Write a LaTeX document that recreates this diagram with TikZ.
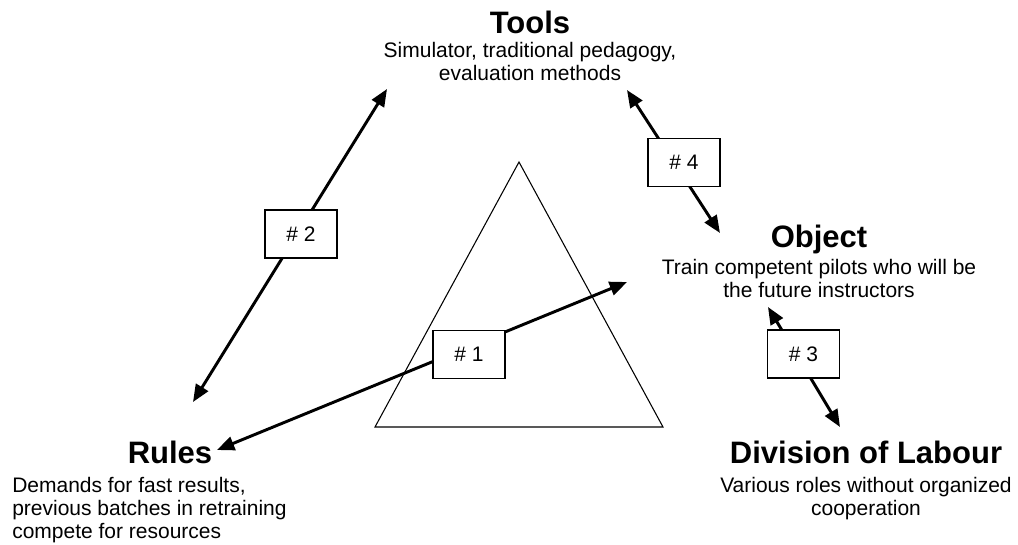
\documentclass[tikz,border=0pt]{standalone}
\usepackage{fontspec}
\setmainfont{Liberation Sans}
\usetikzlibrary{arrows.meta}
\begin{document}
\begin{tikzpicture}[x=0.75pt,y=-0.75pt,
  head/.style={font=\bfseries\fontsize{23.25}{27}\selectfont, inner sep=0, anchor=base},
  sub/.style={font=\fontsize{15.75}{17.25}\selectfont, inner sep=0, align=center, anchor=base},
  tag/.style={draw, line width=1.1pt, fill=white, minimum width=54pt, minimum height=36pt,
              font=\fontsize{15.75}{17}\selectfont, inner sep=0},
  link/.style={line width=2.2pt, {Triangle[length=13pt,width=10.5pt]}-{Triangle[length=13pt,width=10.5pt]}},
  tri/.style={line width=0.8pt, line join=miter}]
\useasboundingbox (0,0) rectangle (1018,544);

% central triangle
\draw[tri] (375,427) -- (663,427) -- (519,162) -- cycle;

% corner labels (sub-text nodes are placed by the baseline of their last line)
\node[head] (tools) at (530,33) {Tools};
\node[sub]  (toolsTxt) at (530,80) {Simulator, traditional pedagogy,\\evaluation methods};

\node[head] (object) at (819,247) {Object};
\node[sub]  (objectTxt) at (819,297) {Train competent pilots who will be\\the future instructors};

\node[head] (division) at (866,463) {Division of Labour};
\node[sub]  (divisionTxt) at (866,515) {Various roles without organized\\cooperation};

\node[head] (rules) at (170,463) {Rules};
\node[sub, anchor=base west, align=left] (rulesTxt) at (12,538)
  {Demands for fast results,\\previous batches in retraining\\compete for resources};

% arrow end points
\coordinate (r1) at (217,450);
\coordinate (o1) at (627,282);
\coordinate (r2) at (193,402);
\coordinate (t2) at (387,89);
\coordinate (o3) at (768,307);
\coordinate (d3) at (840,427);
\coordinate (t4) at (627,90);
\coordinate (o4) at (720,233);

% tensions
\draw[link] (r1) -- (o1);
\draw[link] (r2) -- (t2);
\draw[link] (o3) -- (d3);
\draw[link] (t4) -- (o4);

% numbered tags on the arrows
\node[tag] (n1) at (469,354.5) {\# 1};
\node[tag] (n2) at (301,234) {\# 2};
\node[tag] (n3) at (803.5,354) {\# 3};
\node[tag] (n4) at (684,162.5) {\# 4};
\end{tikzpicture}
\end{document}
